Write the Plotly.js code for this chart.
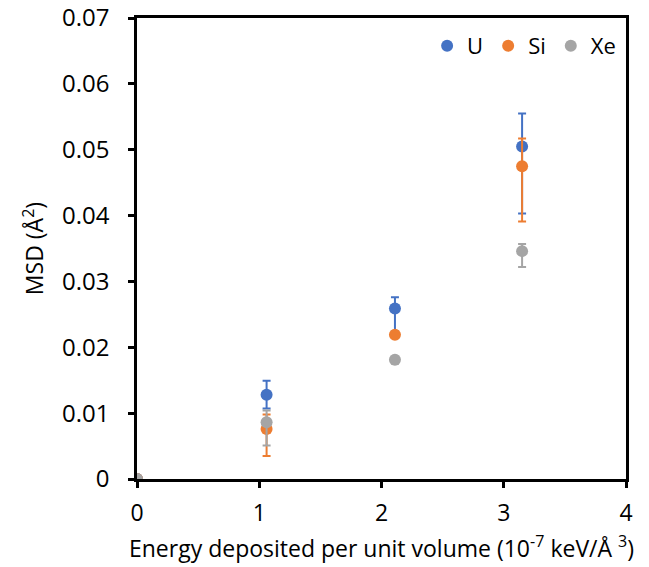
<!DOCTYPE html>
<html><head><meta charset="utf-8">
<script src="https://cdn.plot.ly/plotly-3.0.1.min.js"></script>
<style>html,body{margin:0;padding:0;background:#fff}#chart{width:649px;height:567px}</style>
</head><body><div id="chart"></div>
<script>
var energy = [0, 1.06, 2.11, 3.15];
var seriesNames = ["U", "Si", "Xe"];
var msdU = [0, 0.0128, 0.0259, 0.0505];
var errUPlus = [0, 0.0021, 0.0017, 0.0050];
var errUMinus = [0, 0.0021, 0.0035, 0.0102];
var msdSi = [0, 0.0076, 0.0219, 0.0475];
var errSiPlus = [0, 0.0022, 0.0003, 0.0042];
var errSiMinus = [0, 0.0041, 0.0003, 0.0084];
var msdXe = [0, 0.0086, 0.0181, 0.0346];
var errXePlus = [0, 0.0018, 0.0004, 0.0011];
var errXeMinus = [0, 0.0035, 0.0006, 0.0024];
var colors = ["#4472C4", "#ED7D31", "#A5A5A5"];

function tr(name, y, ep, em, c) {
  return {
    x: energy, y: y, name: name, type: "scatter", mode: "markers",
    marker: {color: c, size: 12},
    error_y: {type: "data", symmetric: false, array: ep, arrayminus: em,
              color: c, thickness: 2, width: 4}
  };
}
var data = [
  tr(seriesNames[0], msdU, errUPlus, errUMinus, colors[0]),
  tr(seriesNames[1], msdSi, errSiPlus, errSiMinus, colors[1]),
  tr(seriesNames[2], msdXe, errXePlus, errXeMinus, colors[2])
];
var font = "'Open Sans', 'DejaVu Sans', sans-serif";
var layout = {
  width: 649, height: 567,
  margin: {l: 137, r: 23, t: 18, b: 88},
  paper_bgcolor: "#fff", plot_bgcolor: "#fff",
  font: {family: font, color: "#000", size: 22},
  showlegend: true,
  legend: {orientation: "h", x: 0.99, xanchor: "right", y: 0.985, yanchor: "top",
           font: {size: 22}, itemwidth: 30, bgcolor: "rgba(0,0,0,0)"},
  xaxis: {
    range: [0, 4], dtick: 1, tick0: 0, showgrid: false, zeroline: false,
    showline: true, linecolor: "#000", linewidth: 2.5, mirror: true,
    ticks: "outside", ticklen: 6, tickwidth: 2.5, tickcolor: "#000",
    tickfont: {size: 23}, ticklabelstandoff: 6,
    title: {text: "Energy deposited per unit volume (10<sup>-7</sup> keV/Å <sup>3</sup>)", font: {size: 23}, standoff: 14}
  },
  yaxis: {
    range: [0, 0.07], dtick: 0.01, tick0: 0, showgrid: false, zeroline: false,
    showline: true, linecolor: "#000", linewidth: 2.5, mirror: true,
    ticks: "outside", ticklen: 6, tickwidth: 2.5, tickcolor: "#000",
    tickfont: {size: 24}, tickformat: ".2~f", ticklabelstandoff: 14,
    title: {text: "MSD (Å<sup>2</sup>)", font: {size: 23}, standoff: 12}
  }
};
Plotly.newPlot("chart", data, layout, {displayModeBar: false});
</script></body></html>
